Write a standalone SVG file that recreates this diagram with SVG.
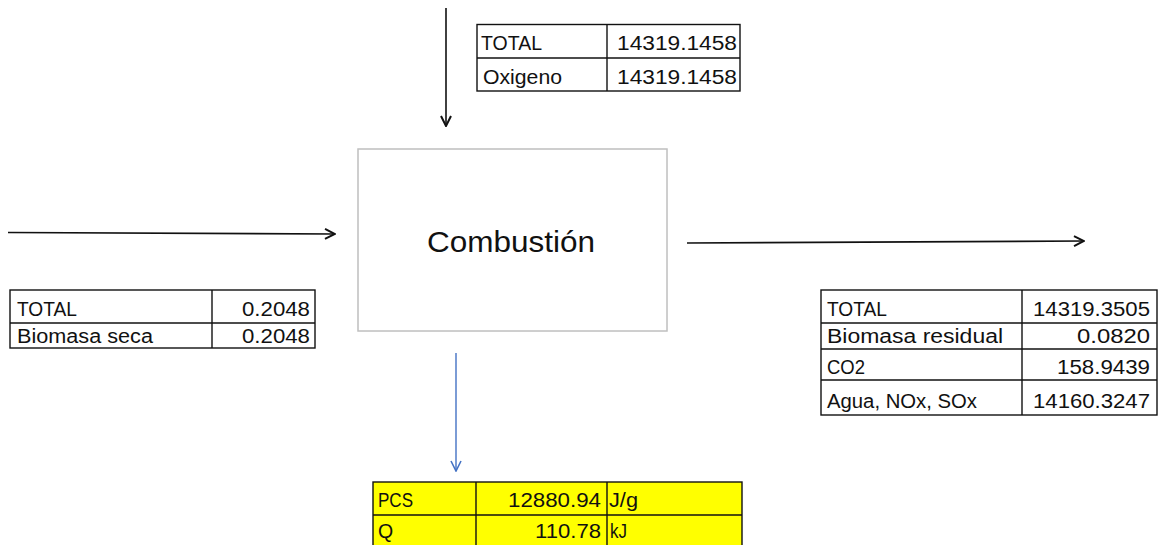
<svg xmlns="http://www.w3.org/2000/svg" width="1167" height="545" viewBox="0 0 1167 545">
<defs>
<style>
text{font-family:"Liberation Sans",Arial,sans-serif;font-size:19.5px;fill:#111}
.r{text-anchor:end}
.tb{fill:#fff;stroke:#111;stroke-width:1.4}
.ln{stroke:#111;stroke-width:1.4;fill:none}
.y{fill:#ffff00;stroke:#111;stroke-width:1.4}
.arr{stroke:#111;stroke-width:1.6;fill:none}
.blue{stroke:#4472c4;stroke-width:1.4;fill:none}
</style>
<marker id="ah" viewBox="0 0 12 12" refX="11" refY="6" markerWidth="12" markerHeight="12" markerUnits="userSpaceOnUse" orient="auto">
<path d="M1,1 L11,6 L1,11" fill="none" stroke="#111" stroke-width="2"/>
</marker>
<marker id="ahb" viewBox="0 0 12 12" refX="11" refY="6" markerWidth="12" markerHeight="12" markerUnits="userSpaceOnUse" orient="auto">
<path d="M1,1 L11,6 L1,11" fill="none" stroke="#4472c4" stroke-width="1.6"/>
</marker>
</defs>

<g id="connectors">
<line class="arr" x1="446" y1="8" x2="446" y2="126" marker-end="url(#ah)"/>
<line class="arr" x1="8" y1="232.5" x2="335" y2="234" marker-end="url(#ah)"/>
<line class="arr" x1="687" y1="243" x2="1084" y2="241" marker-end="url(#ah)"/>
<line class="blue" x1="456" y1="353" x2="456" y2="471" marker-end="url(#ahb)"/>
</g>

<g id="combustion">
<rect x="358" y="149" width="309" height="182" fill="#fff" stroke="#bfbfbf" stroke-width="1.5"/>
<text x="511" y="252" text-anchor="middle" style="font-size:30px" textLength="168" lengthAdjust="spacingAndGlyphs">Combustión</text>
</g>

<g id="table-oxigeno">
<rect class="tb" x="477" y="24.5" width="263" height="66.5"/>
<line class="ln" x1="477" y1="58" x2="740" y2="58"/>
<line class="ln" x1="607" y1="24.5" x2="607" y2="91"/>
<text x="481" y="50" textLength="61" lengthAdjust="spacingAndGlyphs">TOTAL</text>
<text x="483" y="84" textLength="79" lengthAdjust="spacingAndGlyphs">Oxigeno</text>
<text x="617" y="50" textLength="120" lengthAdjust="spacingAndGlyphs">14319.1458</text>
<text x="617" y="84" textLength="120" lengthAdjust="spacingAndGlyphs">14319.1458</text>
</g>

<g id="table-biomasa">
<rect class="tb" x="10" y="290" width="305" height="58"/>
<line class="ln" x1="10" y1="323" x2="315" y2="323"/>
<line class="ln" x1="212" y1="290" x2="212" y2="348"/>
<text x="17" y="316" textLength="60" lengthAdjust="spacingAndGlyphs">TOTAL</text>
<text x="17" y="343" textLength="136" lengthAdjust="spacingAndGlyphs">Biomasa seca</text>
<text x="242" y="316" textLength="68" lengthAdjust="spacingAndGlyphs">0.2048</text>
<text x="242" y="343" textLength="68" lengthAdjust="spacingAndGlyphs">0.2048</text>
</g>

<g id="table-salida">
<rect class="tb" x="821" y="290" width="336" height="125"/>
<line class="ln" x1="821" y1="323" x2="1157" y2="323"/>
<line class="ln" x1="821" y1="349" x2="1157" y2="349"/>
<line class="ln" x1="821" y1="380" x2="1157" y2="380"/>
<line class="ln" x1="1022" y1="290" x2="1022" y2="415"/>
<text x="827" y="316" textLength="60" lengthAdjust="spacingAndGlyphs">TOTAL</text>
<text x="827" y="343" textLength="176" lengthAdjust="spacingAndGlyphs">Biomasa residual</text>
<text x="827" y="374" textLength="38" lengthAdjust="spacingAndGlyphs">CO2</text>
<text x="827" y="408" textLength="150" lengthAdjust="spacingAndGlyphs">Agua, NOx, SOx</text>
<text x="1033" y="316" textLength="117" lengthAdjust="spacingAndGlyphs">14319.3505</text>
<text x="1077" y="343" textLength="73" lengthAdjust="spacingAndGlyphs">0.0820</text>
<text x="1057" y="374" textLength="93" lengthAdjust="spacingAndGlyphs">158.9439</text>
<text x="1033" y="408" textLength="117" lengthAdjust="spacingAndGlyphs">14160.3247</text>
</g>

<g id="table-energia">
<rect class="y" x="373" y="482" width="369" height="70"/>
<line class="ln" x1="373" y1="515" x2="742" y2="515"/>
<line class="ln" x1="476" y1="482" x2="476" y2="552"/>
<line class="ln" x1="607" y1="482" x2="607" y2="552"/>
<text x="378" y="507" textLength="35" lengthAdjust="spacingAndGlyphs">PCS</text>
<text x="378" y="538">Q</text>
<text x="508" y="507" textLength="93" lengthAdjust="spacingAndGlyphs">12880.94</text>
<text x="535" y="538" textLength="66" lengthAdjust="spacingAndGlyphs">110.78</text>
<text x="609" y="507" textLength="29" lengthAdjust="spacingAndGlyphs">J/g</text>
<text x="610" y="538" textLength="17" lengthAdjust="spacingAndGlyphs">kJ</text>
</g>
</svg>
